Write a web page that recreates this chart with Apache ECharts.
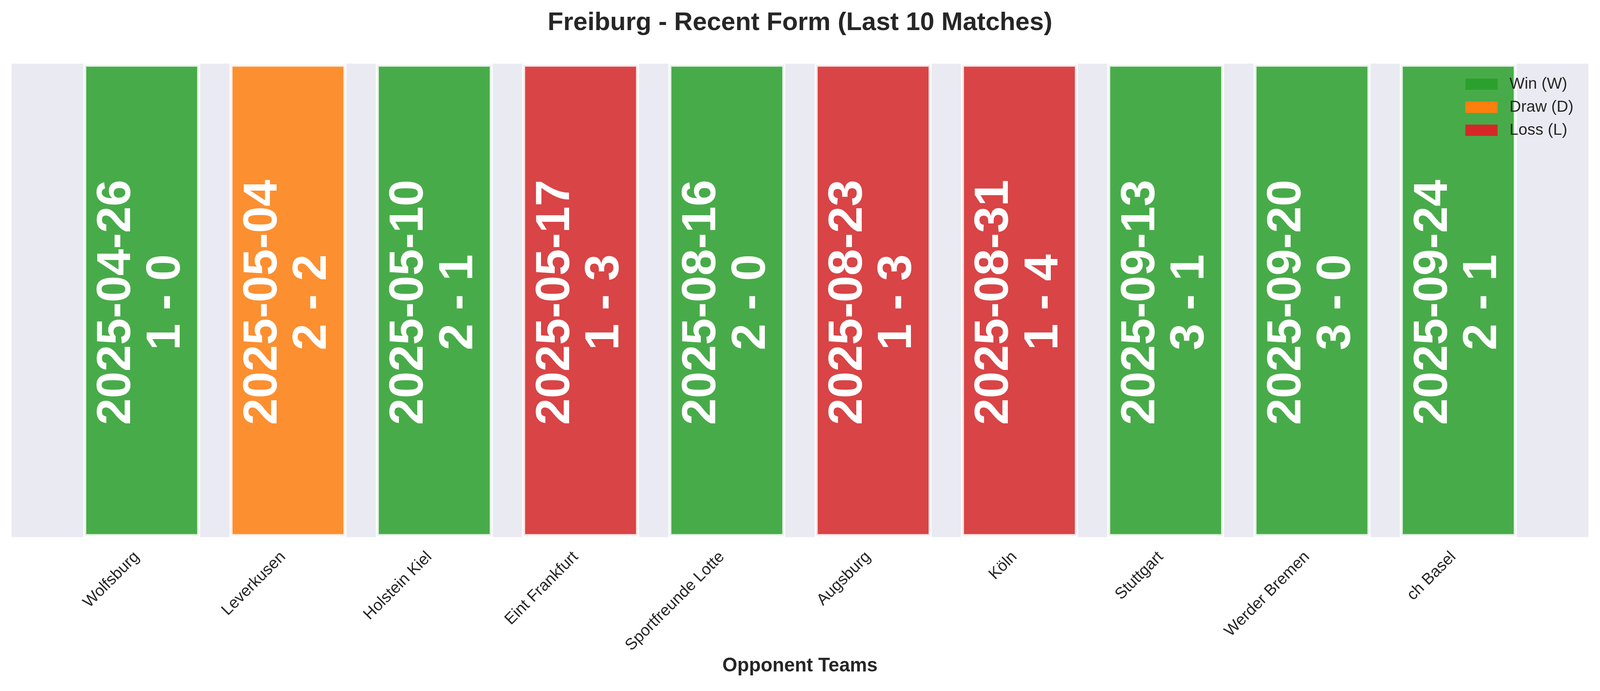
<!DOCTYPE html>
<html>
<head>
<meta charset="utf-8">
<title>Freiburg - Recent Form</title>
<script src="https://cdn.jsdelivr.net/npm/echarts@6/dist/echarts.min.js"></script>
<style>
  html, body { margin: 0; padding: 0; background: #fff; overflow: hidden; }
  #chart { width: 100vw; height: 100vh; }
</style>
</head>
<body>
<div id="chart"></div>
<script>
// match data
const teams = ['Wolfsburg', 'Leverkusen', 'Holstein Kiel', 'Eint Frankfurt', 'Sportfreunde Lotte',
               'Augsburg', 'Köln', 'Stuttgart', 'Werder Bremen', 'ch Basel'];
const dates = ['2025-04-26', '2025-05-04', '2025-05-10', '2025-05-17', '2025-08-16',
               '2025-08-23', '2025-08-31', '2025-09-13', '2025-09-20', '2025-09-24'];
const scores = ['1 - 0', '2 - 2', '2 - 1', '1 - 3', '2 - 0', '1 - 3', '1 - 4', '3 - 1', '3 - 0', '2 - 1'];
const results = ['W', 'D', 'W', 'L', 'W', 'L', 'L', 'W', 'W', 'W'];

const outcomes = [
    { code: 'W', name: 'Win (W)', color: '#2ca02c' },
    { code: 'D', name: 'Draw (D)', color: '#ff7f0e' },
    { code: 'L', name: 'Loss (L)', color: '#d62728' }
];

const FONT = "'Liberation Sans', Arial, sans-serif";
const INK = '#262626';

const chart = echarts.init(document.getElementById('chart'));

// layout was measured on a 4170x1769 canvas, scale it to whatever we really got
// (the window may come out narrower than asked)
const sx = chart.getWidth() / 4170;
const sy = chart.getHeight() / 1769;
const X = v => v * sx;
const Y = v => v * sy;
const F = v => v * Math.min(sx, sy);

// one series per outcome, stacked so every bar sits centred on its team
const series = outcomes.map(o => ({
    name: o.name,
    type: 'bar',
    stack: 'form',
    barWidth: '80%',
    xAxisIndex: 0,
    yAxisIndex: 0,
    itemStyle: { color: o.color, opacity: 0.85, borderColor: '#ffffff', borderWidth: F(8) },
    emphasis: { disabled: true },
    label: {
        show: true,
        position: 'inside',
        rotate: 90,
        color: '#ffffff',
        opacity: 1,
        fontFamily: FONT,
        fontWeight: 'bold',
        fontSize: F(125),
        lineHeight: F(129),
        // uneven padding nudges the block a bit left/down like matplotlib's centring
        padding: [0, F(10), F(24), 0],
        formatter: p => dates[p.dataIndex] + '\n' + scores[p.dataIndex]
    },
    data: results.map(r => r === o.code ? 1 : '-')
}));

chart.setOption({
    animation: false,
    backgroundColor: '#ffffff',
    title: {
        text: 'Freiburg - Recent Form (Last 10 Matches)',
        left: 'center',
        top: Y(21),
        textStyle: { fontFamily: FONT, fontWeight: 'bold', fontSize: F(66.7), color: INK }
    },
    legend: {
        orient: 'vertical',
        left: X(3814),
        top: Y(190),
        itemWidth: X(84),
        itemHeight: Y(29),
        itemGap: Y(18),
        icon: 'rect',
        selectedMode: false,
        itemStyle: { opacity: 1, borderWidth: 0 },
        textStyle: { fontFamily: FONT, fontSize: F(41.7), color: INK, padding: [0, 0, 0, X(26)] },
        data: outcomes.map(o => ({ name: o.name, itemStyle: { color: o.color, opacity: 1, borderWidth: 0 } }))
    },
    grid: [
        // bars live in this one (matplotlib leaves ~0.39 of a slot as margin each side)
        { left: X(178.7), right: X(178.8), top: Y(163), bottom: Y(394), containLabel: false },
        // full plot background
        { left: X(30), right: X(30), top: Y(163), bottom: Y(394), show: true, backgroundColor: '#eaeaf2', borderWidth: 0, z: -1 }
    ],
    xAxis: [
        {
            type: 'category',
            gridIndex: 0,
            data: teams,
            name: 'Opponent Teams',
            nameLocation: 'middle',
            nameGap: Y(305),
            nameTextStyle: { fontFamily: FONT, fontWeight: 'bold', fontSize: F(50), color: INK },
            axisLine: { show: false },
            axisTick: { show: false },
            splitLine: { show: false },
            axisLabel: {
                interval: 0,
                rotate: 45,
                margin: Y(32),
                padding: [0, X(18), 0, 0],
                fontFamily: FONT,
                fontSize: F(41.7),
                color: INK
            }
        },
        { type: 'value', gridIndex: 1, show: false, min: 0, max: 1 }
    ],
    yAxis: [
        { type: 'value', gridIndex: 0, min: 0, max: 1, show: false },
        { type: 'value', gridIndex: 1, min: 0, max: 1, show: false }
    ],
    series: series
});
</script>
</body>
</html>
